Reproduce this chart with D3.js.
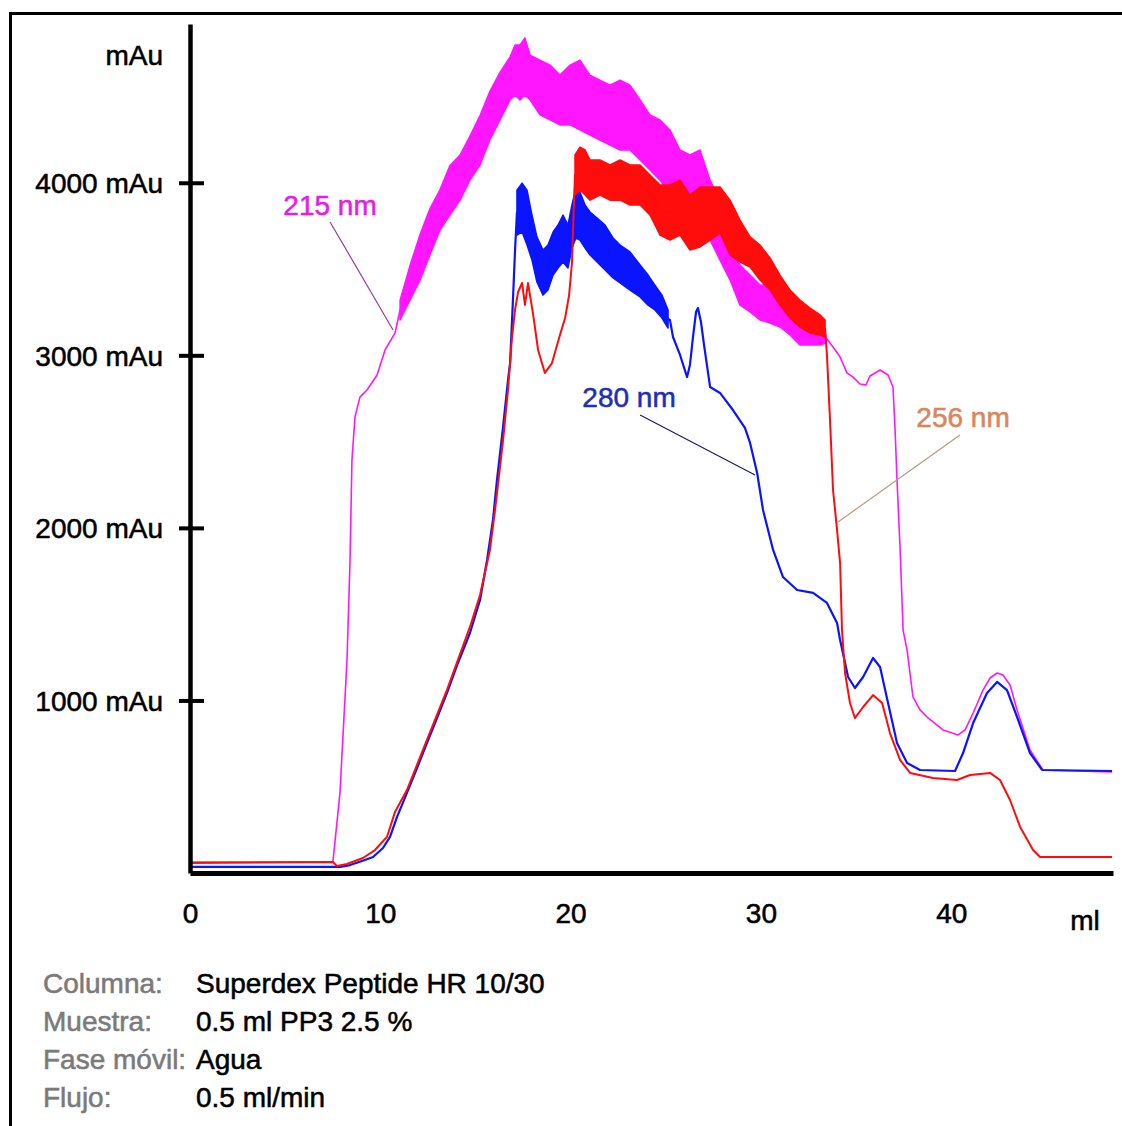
<!DOCTYPE html>
<html>
<head>
<meta charset="utf-8">
<script src="https://cdn.jsdelivr.net/npm/d3@7"></script>
<style>
  body { margin: 0; background: #fff; }
  svg { display: block; font-family: "Liberation Sans", Arial, sans-serif; }
  text { stroke-width: 0.55px; paint-order: stroke; }
</style>
</head>
<body>
<div id="chart"></div>
<script>
'use strict';

// volumes in ml, absorbance in mAu

const xTicks = [0, 10, 20, 30, 40];
const yTicks = [1000, 2000, 3000, 4000];

// 215 nm (magenta)
const nm215Line = [
  [0, 64], [7.51, 64], [7.88, 464], [8.25, 1234], [8.41, 1814], [8.51, 2393], [8.67, 2643],
  [8.93, 2758], [9.30, 2799], [9.83, 2886], [10.25, 3031], [10.77, 3129],
  [33.47, 3095], [33.79, 3048], [34.16, 2990], [34.52, 2898], [34.84, 2874], [35.21, 2834],
  [35.52, 2828], [35.73, 2880], [36.26, 2915], [36.68, 2886], [36.94, 2816], [37.05, 2567],
  [37.15, 2277], [37.31, 1889], [37.47, 1408], [37.68, 1292], [37.99, 1020], [38.36, 945],
  [38.73, 904], [39.57, 829], [40.36, 800], [40.73, 829], [41.15, 927], [41.67, 1060],
  [42.04, 1130], [42.41, 1159], [42.72, 1147], [43.09, 1089], [43.46, 945], [44.14, 713],
  [44.82, 597], [48.45, 585]
];
// noisy stretch: [ml, low, high]
const nm215Noise = [
  [11.04, 3205, 3320], [11.56, 3320, 3520], [12.09, 3436, 3700], [12.61, 3581, 3850],
  [13.14, 3726, 3960], [13.66, 3813, 4100], [14.19, 3899, 4160], [14.71, 4015, 4270],
  [15.24, 4103, 4390], [15.76, 4248, 4530], [16.29, 4364, 4640], [16.82, 4480, 4730],
  [17.08, 4509, 4798], [17.34, 4480, 4798], [17.60, 4509, 4839], [17.87, 4480, 4740],
  [18.39, 4393, 4711], [18.92, 4364, 4682], [19.44, 4335, 4624], [19.97, 4335, 4682],
  [20.49, 4306, 4711], [21.02, 4277, 4624], [21.54, 4248, 4595], [22.07, 4219, 4566],
  [22.60, 4190, 4595], [23.12, 4190, 4566], [23.65, 4132, 4480], [24.17, 4074, 4393],
  [24.70, 4015, 4364], [25.22, 3929, 4306], [25.75, 3899, 4190], [26.27, 3841, 4161],
  [26.80, 3784, 4190], [27.33, 3668, 4015], [27.85, 3552, 3899], [28.38, 3436, 3639],
  [28.90, 3291, 3523], [29.43, 3251, 3465], [29.95, 3205, 3407], [30.48, 3187, 3407],
  [31.00, 3164, 3320], [31.53, 3118, 3263], [32.05, 3060, 3216], [32.58, 3060, 3176],
  [33.11, 3060, 3147], [33.42, 3071, 3118]
];

// 280 nm (blue)
const nm280Line = [
  [0, 35], [7.88, 35], [8.41, 46], [9.04, 70], [9.62, 93], [10.14, 145], [10.51, 209],
  [10.88, 325], [11.40, 464], [11.93, 608], [12.45, 753], [12.98, 898], [13.50, 1043],
  [14.08, 1217], [14.71, 1391], [15.24, 1582], [15.61, 1814], [15.92, 2046], [16.13, 2277],
  [16.45, 2585], [16.71, 2857], [16.82, 2955], [16.97, 3320], [17.08, 3610],
  [25.22, 3205], [25.38, 3106], [25.75, 3002], [26.12, 2874], [26.27, 2944], [26.43, 3106],
  [26.59, 3251], [26.69, 3274], [26.85, 3193], [27.01, 3060], [27.33, 2816], [27.85, 2782],
  [28.53, 2683], [29.16, 2579], [29.43, 2492], [29.80, 2318], [30.11, 2104], [30.64, 1872],
  [31.16, 1715], [31.90, 1640], [32.74, 1623], [33.47, 1565], [34.00, 1449], [34.16, 1350],
  [34.58, 1136], [34.94, 1072], [35.37, 1136], [35.89, 1246], [36.26, 1194], [36.68, 985],
  [37.15, 753], [37.68, 637], [38.36, 597], [40.20, 591], [40.62, 695], [41.15, 869],
  [41.88, 1043], [42.41, 1107], [42.93, 1060], [43.46, 904], [44.14, 695], [44.77, 597],
  [48.45, 591]
];
const nm280Noise = [
  [17.18, 3697, 3957], [17.45, 3715, 3998], [17.71, 3639, 3957], [17.97, 3552, 3813],
  [18.23, 3425, 3686], [18.55, 3349, 3610], [18.81, 3378, 3639], [19.08, 3465, 3715],
  [19.34, 3506, 3755], [19.60, 3541, 3813], [19.86, 3506, 3755], [20.07, 3622, 3871],
  [20.28, 3680, 3969], [20.49, 3668, 3946], [20.76, 3622, 3871], [21.02, 3581, 3830],
  [21.39, 3541, 3796], [21.81, 3494, 3755], [22.23, 3448, 3680], [22.60, 3419, 3639],
  [23.12, 3378, 3599], [23.65, 3338, 3523], [24.07, 3291, 3465], [24.43, 3263, 3407],
  [24.80, 3216, 3349], [25.12, 3158, 3263]
];

// 256 nm (red)
const nm256Line = [
  [0, 58], [7.51, 64], [7.72, 41], [8.25, 52], [9.09, 87], [9.72, 133], [10.35, 209],
  [10.77, 353], [11.40, 481], [12.45, 771], [13.50, 1060], [14.71, 1426], [15.24, 1611],
  [15.76, 1872], [16.03, 2104], [16.45, 2509], [16.71, 2799], [16.92, 3106], [17.08, 3263],
  [17.24, 3367], [17.45, 3419], [17.60, 3292], [17.76, 3419], [18.02, 3245], [18.29, 3031],
  [18.65, 2898], [19.02, 2955], [19.44, 3118], [19.71, 3216], [19.92, 3349], [20.07, 3535],
  [20.18, 3900],
  [33.47, 3002], [33.63, 2625], [33.79, 2219], [34.00, 1988], [34.16, 1796], [34.26, 1408],
  [34.42, 1159], [34.68, 985], [34.94, 898], [35.37, 962], [35.89, 1031], [36.37, 985],
  [36.78, 811], [37.31, 655], [37.84, 580], [39.04, 551], [40.30, 539], [40.99, 568],
  [42.04, 580], [42.56, 539], [43.09, 423], [43.62, 267], [44.30, 133], [44.67, 93],
  [48.45, 93]
];
const nm256Noise = [
  [20.23, 3929, 4161], [20.49, 3957, 4207], [20.76, 3929, 4190], [21.02, 3899, 4132],
  [21.54, 3929, 4132], [22.07, 3899, 4103], [22.60, 3899, 4132], [23.12, 3871, 4103],
  [23.65, 3871, 4103], [24.17, 3813, 4045], [24.70, 3697, 3987], [25.22, 3668, 3987],
  [25.75, 3697, 4015], [26.27, 3610, 3929], [26.80, 3628, 3975], [27.33, 3668, 3975],
  [27.85, 3709, 3975], [28.38, 3581, 3899], [28.90, 3541, 3784], [29.43, 3512, 3686],
  [29.95, 3436, 3639], [30.48, 3378, 3564], [31.00, 3291, 3465], [31.53, 3216, 3378],
  [32.05, 3164, 3320], [32.58, 3129, 3274], [33.11, 3118, 3234], [33.37, 3106, 3205]
];

// label text, label anchor [ml, mAu], pointer start and end
const traceLabels = [
  { text: '215 nm', color: '#e41ee4', line: '#9a3c9a', at: [7.36, 3813], from: [7.36, 3773], to: [10.67, 3147] },
  { text: '280 nm', color: '#1f2fb4', line: '#1c1c60', at: [23.07, 2700], from: [23.65, 2654], to: [29.69, 2306] },
  { text: '256 nm', color: '#d9865e', line: '#b99a80', at: [40.62, 2585], from: [40.46, 2538], to: [34.05, 2034] }
];

const infoKeys = ['Columna:', 'Muestra:', 'Fase móvil:', 'Flujo:'];
const infoValues = ['Superdex Peptide HR 10/30', '0.5 ml PP3 2.5 %', 'Agua', '0.5 ml/min'];


const W = 1122, H = 1126;
const plot = { left: 190, right: 1113, top: 24, bottom: 873 };

const x = d3.scaleLinear().domain([0, 48.5]).range([plot.left, plot.right]);
const y = d3.scaleLinear().domain([0, 4920]).range([plot.bottom, plot.top]);

const svg = d3.select('#chart').append('svg')
    .attr('width', W)
    .attr('height', H);

svg.append('rect').attr('width', W).attr('height', H).attr('fill', '#fff');

// outer frame (runs off the right and bottom edges)
svg.append('path')
    .attr('d', 'M10.5,' + (H + 5) + 'V13.5H' + (W + 5))
    .attr('fill', 'none')
    .attr('stroke', '#000')
    .attr('stroke-width', 3);


function centreLine( line, noise ) {
    var mids = noise.map(function( d ) { return [ d[0], (d[1] + d[2]) / 2 ]; });
    return line.concat(mids).sort(function( a, b ) { return a[0] - b[0]; });
}

const lineGen = d3.line()
    .x(function( d ) { return x(d[0]); })
    .y(function( d ) { return y(d[1]); });

const bandGen = d3.area()
    .x(function( d ) { return x(d[0]); })
    .y0(function( d ) { return y(d[1]); })
    .y1(function( d ) { return y(d[2]); });

const traces = [
    { line: nm215Line, noise: nm215Noise, color: '#ff16ff', width: 1.6 },
    { line: nm280Line, noise: nm280Noise, color: '#0a14ff', width: 2.2 },
    { line: nm256Line, noise: nm256Noise, color: '#ff0c0c', width: 2 }
];

const traceG = svg.append('g').attr('class', 'traces');

traces.forEach(function( t ) {
    var g = traceG.append('g');
    g.append('path')
        .datum(t.noise)
        .attr('d', bandGen)
        .attr('fill', t.color)
        .attr('stroke', t.color)
        .attr('stroke-width', 1.5)
        .attr('stroke-linejoin', 'round');
    g.append('path')
        .datum(centreLine(t.line, t.noise))
        .attr('d', lineGen)
        .attr('fill', 'none')
        .attr('stroke', t.color)
        .attr('stroke-width', t.width)
        .attr('stroke-linejoin', 'round');
});


// axes
const yAxis = svg.append('g')
    .attr('transform', 'translate(' + plot.left + ',0)')
    .call(d3.axisLeft(y).tickValues(yTicks).tickSize(11).tickSizeOuter(0)
        .tickFormat(function( d ) { return d + ' mAu'; }));

yAxis.select('.domain').attr('stroke-width', 4.5);
yAxis.selectAll('.tick line').attr('x1', 14).attr('x2', -11).attr('stroke-width', 4);
yAxis.selectAll('.tick text')
    .attr('x', -27)
    .attr('dy', '0.36em')
    .attr('font-size', 28)
    .attr('font-family', null)
    .attr('fill', '#000')
    .attr('stroke', '#000');

const xAxis = svg.append('g')
    .attr('transform', 'translate(0,' + plot.bottom + ')')
    .call(d3.axisBottom(x).tickValues(xTicks).tickSize(0).tickSizeOuter(0));

xAxis.select('.domain').attr('stroke-width', 5);
xAxis.selectAll('.tick text')
    .attr('y', 30)
    .attr('dy', '0.71em')
    .attr('font-size', 28)
    .attr('font-family', null)
    .attr('fill', '#000')
    .attr('stroke', '#000');

svg.append('text')
    .attr('x', 1085).attr('y', 930)
    .attr('text-anchor', 'middle')
    .attr('font-size', 28)
    .attr('stroke', '#000')
    .text('ml');

svg.append('text')
    .attr('x', 163).attr('y', 65)
    .attr('text-anchor', 'end')
    .attr('font-size', 28)
    .attr('stroke', '#000')
    .text('mAu');


// trace labels with pointers
const labelG = svg.append('g').attr('class', 'trace-labels');

traceLabels.forEach(function( l ) {
    labelG.append('line')
        .attr('x1', x(l.from[0])).attr('y1', y(l.from[1]))
        .attr('x2', x(l.to[0])).attr('y2', y(l.to[1]))
        .attr('stroke', l.line)
        .attr('stroke-width', 1.2);
    labelG.append('text')
        .attr('x', x(l.at[0])).attr('y', y(l.at[1]))
        .attr('text-anchor', 'middle')
        .attr('font-size', 28)
        .attr('fill', l.color)
        .attr('stroke', l.color)
        .text(l.text);
});


// run conditions
const info = svg.append('g').attr('class', 'info').attr('font-size', 28);

infoKeys.forEach(function( k, i ) {
    info.append('text')
        .attr('x', 43).attr('y', 993 + i * 38)
        .attr('fill', '#7a7a7a')
        .attr('stroke', '#7a7a7a')
        .text(k);
    info.append('text')
        .attr('x', 196).attr('y', 993 + i * 38)
        .attr('fill', '#000')
        .attr('stroke', '#000')
        .text(infoValues[i]);
});
</script>
</body>
</html>
